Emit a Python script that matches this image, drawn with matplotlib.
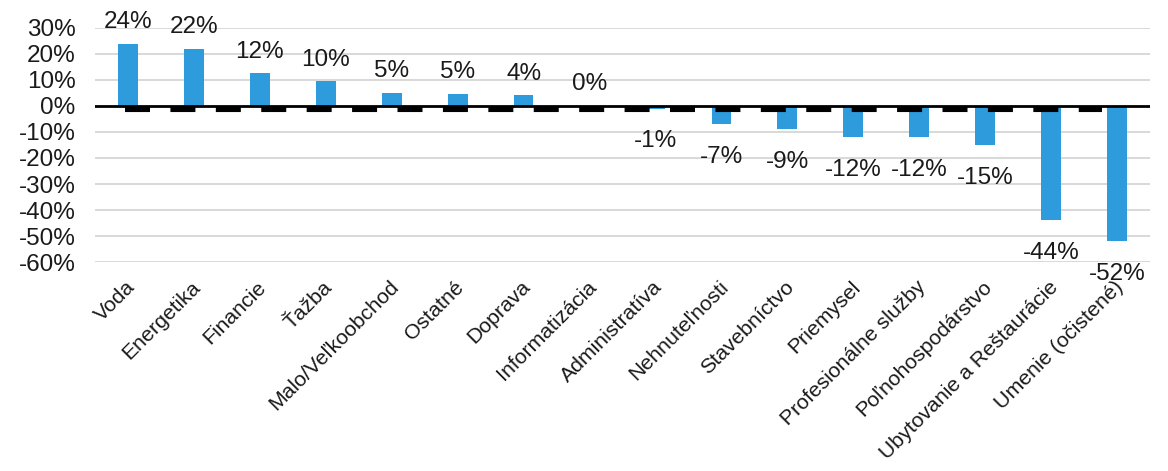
import matplotlib
matplotlib.use("Agg")
import matplotlib.pyplot as plt
from matplotlib.transforms import ScaledTranslation

plt.rcParams['font.family'] = ['Liberation Sans', 'DejaVu Sans']
plt.rcParams['lines.scale_dashes'] = False

odvetvia = ["Voda", "Energetika", "Financie", "Ťažba", "Malo/Veľkoobchod", "Ostatné",
            "Doprava", "Informatizácia", "Administratíva", "Nehnuteľnosti", "Stavebníctvo",
            "Priemysel", "Profesionálne služby", "Poľnohospodárstvo",
            "Ubytovanie a Reštaurácie", "Umenie (očistené)"]
zmena = [24, 22, 12.5, 9.5, 5, 4.7, 4.2, 0, -1, -7, -9, -12, -12, -15, -44, -52]
popisky = ["24%", "22%", "12%", "10%", "5%", "5%", "4%", "0%", "-1%", "-7%", "-9%",
           "-12%", "-12%", "-15%", "-44%", "-52%"]
priemer = -1.2  # ciarkovana ciara pod nulou
y_ticky = [30, 20, 10, 0, -10, -20, -30, -40, -50, -60]

fig = plt.figure(figsize=(11.68, 4.71), dpi=100)
ax = fig.add_axes([0.0813, 0.4437, 0.9033, 0.4969])

x = list(range(len(odvetvia)))
ax.bar(x, zmena, width=0.3, color='#2e9bdc', zorder=2)

# gridlines
for t in y_ticky:
    if t != 0:
        ax.axhline(t, color='#d6d6d6', lw=1.3, zorder=0)
ax.axhline(0, color='black', lw=2, zorder=4)

# hruba ciarkovana ciara
ax.plot([-0.045, 14.77], [priemer, priemer], color='black', lw=4.4,
        linestyle=(0, (18, 14.7)), solid_capstyle='butt', dash_capstyle='butt', zorder=3)

for xi, v, s in zip(x, zmena, popisky):
    if v >= 0:
        ax.annotate(s, (xi, v), xytext=(0, 15.5), textcoords='offset points',
                    ha='center', va='center', fontsize=17.5, color='#1a1a1a', annotation_clip=False)
    else:
        ax.annotate(s, (xi, v), xytext=(0, -23.5), textcoords='offset points',
                    ha='center', va='center', fontsize=17.5, color='#1a1a1a', annotation_clip=False)

ax.set_xlim(-0.5, len(odvetvia) - 0.5)
ax.set_ylim(-60, 30)
ax.set_yticks(y_ticky)
ax.set_yticklabels([f"{t}%" for t in y_ticky], fontsize=17.5, color='#1a1a1a')
ax.set_xticks(x)
ax.set_xticklabels(odvetvia, rotation=45, ha='right', rotation_mode='anchor',
                   fontsize=15.3, color='#1a1a1a')
ax.tick_params(axis='y', length=0, pad=14)
ax.tick_params(axis='x', length=0, pad=11)
posun = ScaledTranslation(-3 / 100, 0, fig.dpi_scale_trans)
for lab in ax.get_xticklabels():
    lab.set_transform(lab.get_transform() + posun)
for sp in ax.spines.values():
    sp.set_visible(False)

fig.savefig("out.png", dpi=100)
